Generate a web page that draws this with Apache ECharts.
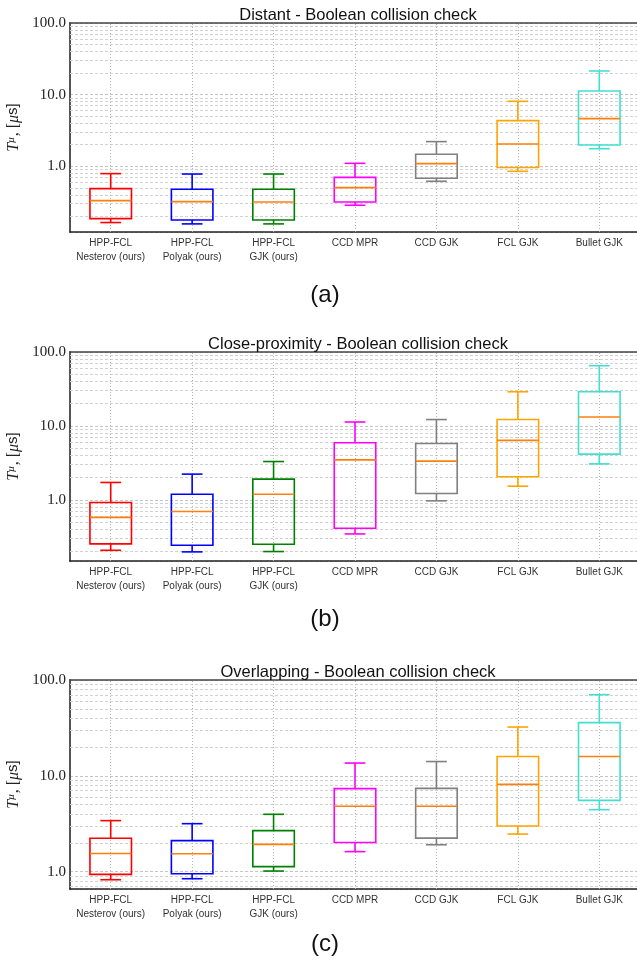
<!DOCTYPE html>
<html>
<head>
  <meta charset="utf-8">
</head>
<body style="margin: 0">
  <div id="container" style="width: 637px; height: 963px"></div>
  <script src="https://cdn.jsdelivr.net/npm/echarts@6/dist/echarts.min.js"></script>
  <script>
    var categories = ['HPP-FCL\nNesterov (ours)', 'HPP-FCL\nPolyak (ours)', 'HPP-FCL\nGJK (ours)', 'CCD MPR', 'CCD GJK', 'FCL GJK', 'Bullet GJK'];
    var boxColors = ['#ff0000', '#0000ff', '#008000', '#ff00ff', '#808080', '#ffa500', '#40e0d0'];

    // each row: [lower whisker, Q1, median, Q3, upper whisker] in microseconds
    var distant = [
      [0.164, 0.186, 0.332, 0.488, 0.79],
      [0.157, 0.178, 0.321, 0.478, 0.78],
      [0.157, 0.178, 0.318, 0.478, 0.78],
      [0.286, 0.318, 0.504, 0.70, 1.10],
      [0.618, 0.68, 1.09, 1.47, 2.21],
      [0.851, 0.96, 2.05, 4.34, 8.07],
      [1.76, 1.98, 4.62, 11.25, 21.4]
    ];
    var closeProximity = [
      [0.208, 0.254, 0.58, 0.92, 1.72],
      [0.198, 0.243, 0.695, 1.19, 2.23],
      [0.20, 0.251, 1.19, 1.91, 3.30],
      [0.346, 0.413, 3.48, 5.92, 11.3],
      [0.97, 1.22, 3.34, 5.80, 12.2],
      [1.53, 2.05, 6.37, 12.2, 29.0],
      [3.07, 4.15, 13.2, 29.0, 65.3]
    ];
    var overlapping = [
      [0.825, 0.938, 1.55, 2.23, 3.41],
      [0.845, 0.953, 1.54, 2.11, 3.17],
      [1.016, 1.13, 1.93, 2.68, 3.97],
      [1.62, 2.02, 4.81, 7.35, 13.6],
      [1.91, 2.24, 4.81, 7.41, 14.1],
      [2.47, 3.0, 8.15, 15.9, 32.3],
      [4.44, 5.55, 15.9, 35.9, 70.3]
    ];

    var panelTitles = ['Distant - Boolean collision check', 'Close-proximity - Boolean collision check', 'Overlapping - Boolean collision check'];
    var panelLabels = ['(a)', '(b)', '(c)'];
    var yMins = [0.121, 0.149, 0.66];
    var yMax = 100;
    var minorTicks = [0.2, 0.3, 0.4, 0.5, 0.6, 0.7, 0.8, 0.9, 2, 3, 4, 5, 6, 7, 8, 9, 20, 30, 40, 50, 60, 70, 80, 90];

    var panels = [distant, closeProximity, overlapping];
    var gridTops = [23, 352, 680];
    var gridHeight = 209;

    function renderBox(params, api) {
      var i = api.value(0);
      var lo = api.coord([i, api.value(1)]);
      var q1 = api.coord([i, api.value(2)]);
      var md = api.coord([i, api.value(3)]);
      var q3 = api.coord([i, api.value(4)]);
      var hi = api.coord([i, api.value(5)]);
      var bw = api.size([1, 1])[0] * 0.51;
      var cw = bw / 2;
      var x = lo[0];
      var st = { stroke: boxColors[i], lineWidth: 1.6, fill: 'none' };
      return {
        type: 'group',
        children: [
          { type: 'rect', shape: { x: x - bw / 2, y: q3[1], width: bw, height: q1[1] - q3[1] }, style: st },
          { type: 'line', shape: { x1: x, y1: q3[1], x2: x, y2: hi[1] }, style: st },
          { type: 'line', shape: { x1: x, y1: q1[1], x2: x, y2: lo[1] }, style: st },
          { type: 'line', shape: { x1: x - cw / 2, y1: hi[1], x2: x + cw / 2, y2: hi[1] }, style: st },
          { type: 'line', shape: { x1: x - cw / 2, y1: lo[1], x2: x + cw / 2, y2: lo[1] }, style: st },
          { type: 'line', shape: { x1: x - bw / 2, y1: md[1], x2: x + bw / 2, y2: md[1] }, style: { stroke: '#ff7f0e', lineWidth: 1.6 } }
        ]
      };
    }

    function decadeLabel(v) {
      var l = Math.log10(v);
      if (Math.abs(l - Math.round(l)) < 1e-6) return v.toFixed(1);
      return '';
    }

    var grid = [], xAxis = [], yAxis = [], series = [], title = [];

    panels.forEach(function (data, p) {
      var top = gridTops[p];
      grid.push({ left: 70, width: 570, top: top, height: gridHeight, containLabel: false, outerBoundsMode: 'none' });

      xAxis.push({
        type: 'category',
        gridIndex: p,
        data: categories,
        boundaryGap: true,
        axisLine: { lineStyle: { color: '#222', width: 1.5 } },
        axisTick: { show: false },
        splitLine: { show: false },
        axisLabel: {
          interval: 0,
          margin: 4,
          fontSize: 10,
          lineHeight: 14,
          color: '#333',
          fontFamily: 'Liberation Sans'
        }
      });
      // top spine
      xAxis.push({
        type: 'category',
        gridIndex: p,
        position: 'top',
        data: categories,
        axisLine: { lineStyle: { color: '#444', width: 1.5 } },
        axisTick: { show: false },
        axisLabel: { show: false },
        splitLine: { show: false }
      });

      yAxis.push({
        type: 'log',
        logBase: 10,
        gridIndex: p,
        min: yMins[p],
        max: yMax,
        axisLine: { show: true, lineStyle: { color: '#555', width: 2 } },
        axisTick: { show: false },
        axisLabel: {
          formatter: decadeLabel,
          margin: 4,
          fontSize: 15,
          color: '#222',
          fontFamily: 'Liberation Serif'
        },
        splitLine: { show: true, lineStyle: { color: '#c4c4c4', type: [3, 2], width: 1 } },
        name: '{t|T}{sup|μ}{n|, [}{mu|μ}{s|s]}',
        nameLocation: 'middle',
        nameRotate: 90,
        nameGap: 32,
        nameTextStyle: {
          rich: {
            t: { fontFamily: 'Liberation Serif', fontStyle: 'italic', fontSize: 16, color: '#222' },
            sup: { fontFamily: 'Liberation Serif', fontStyle: 'italic', fontSize: 11, color: '#222', verticalAlign: 'top', padding: [0, 1, 0, 0] },
            n: { fontFamily: 'Liberation Serif', fontSize: 16, color: '#222' },
            mu: { fontFamily: 'Liberation Serif', fontStyle: 'italic', fontSize: 16, color: '#222' },
            s: { fontFamily: 'Liberation Sans', fontSize: 15, color: '#222' }
          }
        }
      });

      // minor horizontal grid lines and vertical grid lines at categories
      series.push({
        type: 'line',
        xAxisIndex: p * 2,
        yAxisIndex: p,
        data: [],
        silent: true,
        markLine: {
          silent: true,
          symbol: ['none', 'none'],
          label: { show: false },
          animation: false,
          data: minorTicks.filter(function (v) { return v > yMins[p] && v < yMax; }).map(function (v) {
            return { yAxis: v, lineStyle: { color: '#d2d2d2', type: [3, 2], width: 1 } };
          }).concat(categories.map(function (c, i) {
            return { xAxis: i, lineStyle: { color: '#b4b4b4', type: [1, 2], width: 1 } };
          }))
        }
      });

      series.push({
        type: 'custom',
        xAxisIndex: p * 2,
        yAxisIndex: p,
        renderItem: renderBox,
        encode: { x: 0, y: [1, 2, 3, 4, 5] },
        data: data.map(function (row, i) { return [i].concat(row); }),
        z: 5
      });

      title.push({
        text: panelTitles[p],
        left: 353,
        textAlign: 'center',
        top: top - 21,
        textStyle: { fontFamily: 'Liberation Sans', fontWeight: 'normal', fontSize: 16.5, color: '#111' }
      });
      title.push({
        text: panelLabels[p],
        left: 320,
        textAlign: 'center',
        top: [278, 602, 927][p],
        textStyle: { fontFamily: 'Liberation Sans', fontWeight: 'normal', fontSize: 24, color: '#111' }
      });
    });

    var myChart = echarts.init(document.getElementById('container'), null, { renderer: 'canvas' });
    myChart.setOption({
      animation: false,
      backgroundColor: '#fff',
      title: title,
      grid: grid,
      xAxis: xAxis,
      yAxis: yAxis,
      series: series
    });
  </script>
</body>
</html>
